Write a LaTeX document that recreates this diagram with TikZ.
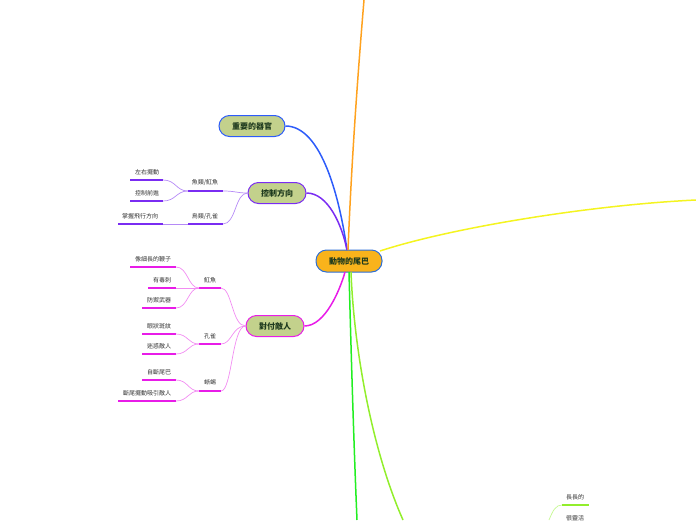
\documentclass[tikz,border=0pt]{standalone}
\usepackage{fontspec}
\setmainfont{Noto Sans CJK TC}
\definecolor{cfill}{HTML}{F9B31B}
\definecolor{cborder}{HTML}{2C6ED8}
\definecolor{gfill}{HTML}{C3D18C}
\definecolor{cblue}{HTML}{2D5CFA}
\definecolor{cpurple}{HTML}{7A2CF2}
\definecolor{lpurple}{HTML}{B58AF6}
\definecolor{cmag}{HTML}{E81CE8}
\definecolor{lmag}{HTML}{F28CF2}
\definecolor{corange}{HTML}{FFA21E}
\definecolor{cyellow}{HTML}{F4F420}
\definecolor{cgreen}{HTML}{22EE22}
\definecolor{cchart}{HTML}{92EE2C}
\definecolor{lchart}{HTML}{C4F890}
\definecolor{ctext}{HTML}{333333}
\definecolor{ntext}{HTML}{1E3A1E}
\tikzset{
  centernode/.style={draw=cborder, fill=cfill, line width=1pt, rounded corners=10.5pt,
    minimum width=66pt, minimum height=22pt, inner sep=0pt, font=\fontsize{8}{9}\selectfont\bfseries, text=ntext},
  mainnode/.style={fill=gfill, line width=1pt, rounded corners=10.5pt,
    minimum height=21pt, inner sep=0pt, font=\fontsize{8}{9}\selectfont\bfseries, text=ntext},
  leaf/.style={inner sep=0pt, font=\fontsize{6}{7}\selectfont, text=ctext},
  branch/.style={line width=1.5pt},
  uline/.style={line width=1.6pt},
  thin/.style={line width=0.7pt}
}
\begin{document}
\begin{tikzpicture}[x=1pt,y=-1pt]
\useasboundingbox (0,0) rectangle (696,520);
% central node
\node[centernode] (root) at (349,261) {動物的尾巴};
\node[mainnode, draw=cblue, minimum width=66pt] (m1) at (252,126) {重要的器官};
\node[mainnode, draw=cpurple, minimum width=58pt] (m2) at (277,193) {控制方向};
\node[mainnode, draw=cmag, minimum width=58pt] (m3) at (275,326) {對付敵人};
% main connectors
\coordinate (rt) at (347,250);
\coordinate (rb) at (349,272);
\draw[branch, cblue] (m1.east) .. controls (322,126) and (340,200) .. (rt);
\draw[branch, cpurple] (m2.east) .. controls (328,193) and (342,225) .. (rt);
\draw[branch, cmag] (m3.east) .. controls (325,326) and (340,290) .. (345,272);
\coordinate (otop) at (364,0);
\draw[branch, corange] (348,250) .. controls (352,150) and (359,60) .. (otop);
\coordinate (yend) at (696,200);
\draw[branch, cyellow] (380,251) .. controls (450,228) and (590,205) .. (yend);
\coordinate (gend) at (357,520);
\draw[branch, cgreen] (rb) .. controls (351,350) and (354,450) .. (gend);
\coordinate (cend) at (403,520);
\draw[branch, cchart] (351,272) .. controls (354,350) and (372,450) .. (cend);

% ---- 控制方向 group
\node[leaf] (a1) at (205,182) {魚類/魟魚};
\coordinate (a1l) at (188,191); \coordinate (a1r) at (223,191);
\node[leaf] (a2) at (205,216) {鳥類/孔雀};
\coordinate (a2l) at (188,224); \coordinate (a2r) at (223,224);
\draw[thin, lpurple] (m2.west) .. controls (236,193) and (236,191) .. (a1r);
\draw[thin, lpurple] (m2.west) .. controls (235,193) and (236,224) .. (a2r);
\draw[uline, cpurple] (a1l) -- (a1r);
\draw[uline, cpurple] (a2l) -- (a2r);
\node[leaf] (a11) at (147,172) {左右擺動};
\coordinate (a11l) at (130,180); \coordinate (a11r) at (163,180);
\node[leaf] (a12) at (147,193) {控制前進};
\coordinate (a12l) at (130,201); \coordinate (a12r) at (163,201);
\node[leaf] (a21) at (140,216) {掌握飛行方向};
\coordinate (a21l) at (118,224); \coordinate (a21r) at (163,224);
\draw[thin, lpurple] (a1l) .. controls (176,191) and (176,180) .. (a11r);
\draw[thin, lpurple] (a1l) .. controls (176,191) and (176,201) .. (a12r);
\draw[thin, lpurple] (a2l) -- (a21r);
\draw[uline, cpurple] (a11l) -- (a11r);
\draw[uline, cpurple] (a12l) -- (a12r);
\draw[uline, cpurple] (a21l) -- (a21r);

% ---- 對付敵人 group
\node[leaf] (b1) at (210,280) {魟魚};
\coordinate (b1l) at (199,288); \coordinate (b1r) at (221,288);
\node[leaf] (b2) at (210,336) {孔雀};
\coordinate (b2l) at (199,344); \coordinate (b2r) at (221,344);
\node[leaf] (b3) at (210,382) {蜥蜴};
\coordinate (b3l) at (199,391); \coordinate (b3r) at (221,391);
\draw[thin, lmag] (m3.west) .. controls (232,326) and (232,288) .. (b1r);
\draw[thin, lmag] (m3.west) .. controls (232,326) and (232,344) .. (b2r);
\draw[thin, lmag] (m3.west) .. controls (232,326) and (232,391) .. (b3r);
\draw[uline, cmag] (b1l) -- (b1r);
\draw[uline, cmag] (b2l) -- (b2r);
\draw[uline, cmag] (b3l) -- (b3r);
\node[leaf] (b11) at (153,259) {像細長的鞭子};
\coordinate (b11l) at (130,267); \coordinate (b11r) at (176,267);
\node[leaf] (b12) at (162,280) {有毒刺};
\coordinate (b12l) at (148,288); \coordinate (b12r) at (176,288);
\node[leaf] (b13) at (159,300) {防禦武器};
\coordinate (b13l) at (142,308); \coordinate (b13r) at (176,308);
\draw[thin, lmag] (b1l) .. controls (188,288) and (188,267) .. (b11r);
\draw[thin, lmag] (b1l) -- (b12r);
\draw[thin, lmag] (b1l) .. controls (188,288) and (188,308) .. (b13r);
\draw[uline, cmag] (b11l) -- (b11r);
\draw[uline, cmag] (b12l) -- (b12r);
\draw[uline, cmag] (b13l) -- (b13r);
\node[leaf] (b21) at (159,326) {眼狀斑紋};
\coordinate (b21l) at (142,334); \coordinate (b21r) at (176,334);
\node[leaf] (b22) at (159,346) {迷惑敵人};
\coordinate (b22l) at (142,354); \coordinate (b22r) at (176,354);
\draw[thin, lmag] (b2l) .. controls (188,344) and (188,334) .. (b21r);
\draw[thin, lmag] (b2l) .. controls (188,344) and (188,354) .. (b22r);
\draw[uline, cmag] (b21l) -- (b21r);
\draw[uline, cmag] (b22l) -- (b22r);
\node[leaf] (b31) at (159,372) {自斷尾巴};
\coordinate (b31l) at (142,380); \coordinate (b31r) at (176,380);
\node[leaf] (b32) at (147,393) {斷尾擺動吸引敵人};
\coordinate (b32l) at (118,401); \coordinate (b32r) at (176,401);
\draw[thin, lmag] (b3l) .. controls (188,391) and (188,380) .. (b31r);
\draw[thin, lmag] (b3l) .. controls (188,391) and (188,401) .. (b32r);
\draw[uline, cmag] (b31l) -- (b31r);
\draw[uline, cmag] (b32l) -- (b32r);

% ---- bottom right
\node[leaf] (c1) at (575,497) {長長的};
\coordinate (c1l) at (562,505); \coordinate (c1r) at (589,505);
\coordinate (cfree) at (549,520);
\draw[thin, lchart] (cfree) .. controls (553,510) and (556,505) .. (c1l);
\draw[uline, cchart] (c1l) -- (c1r);
\node[leaf] (c2) at (575,518) {很靈活};
\end{tikzpicture}
\end{document}
